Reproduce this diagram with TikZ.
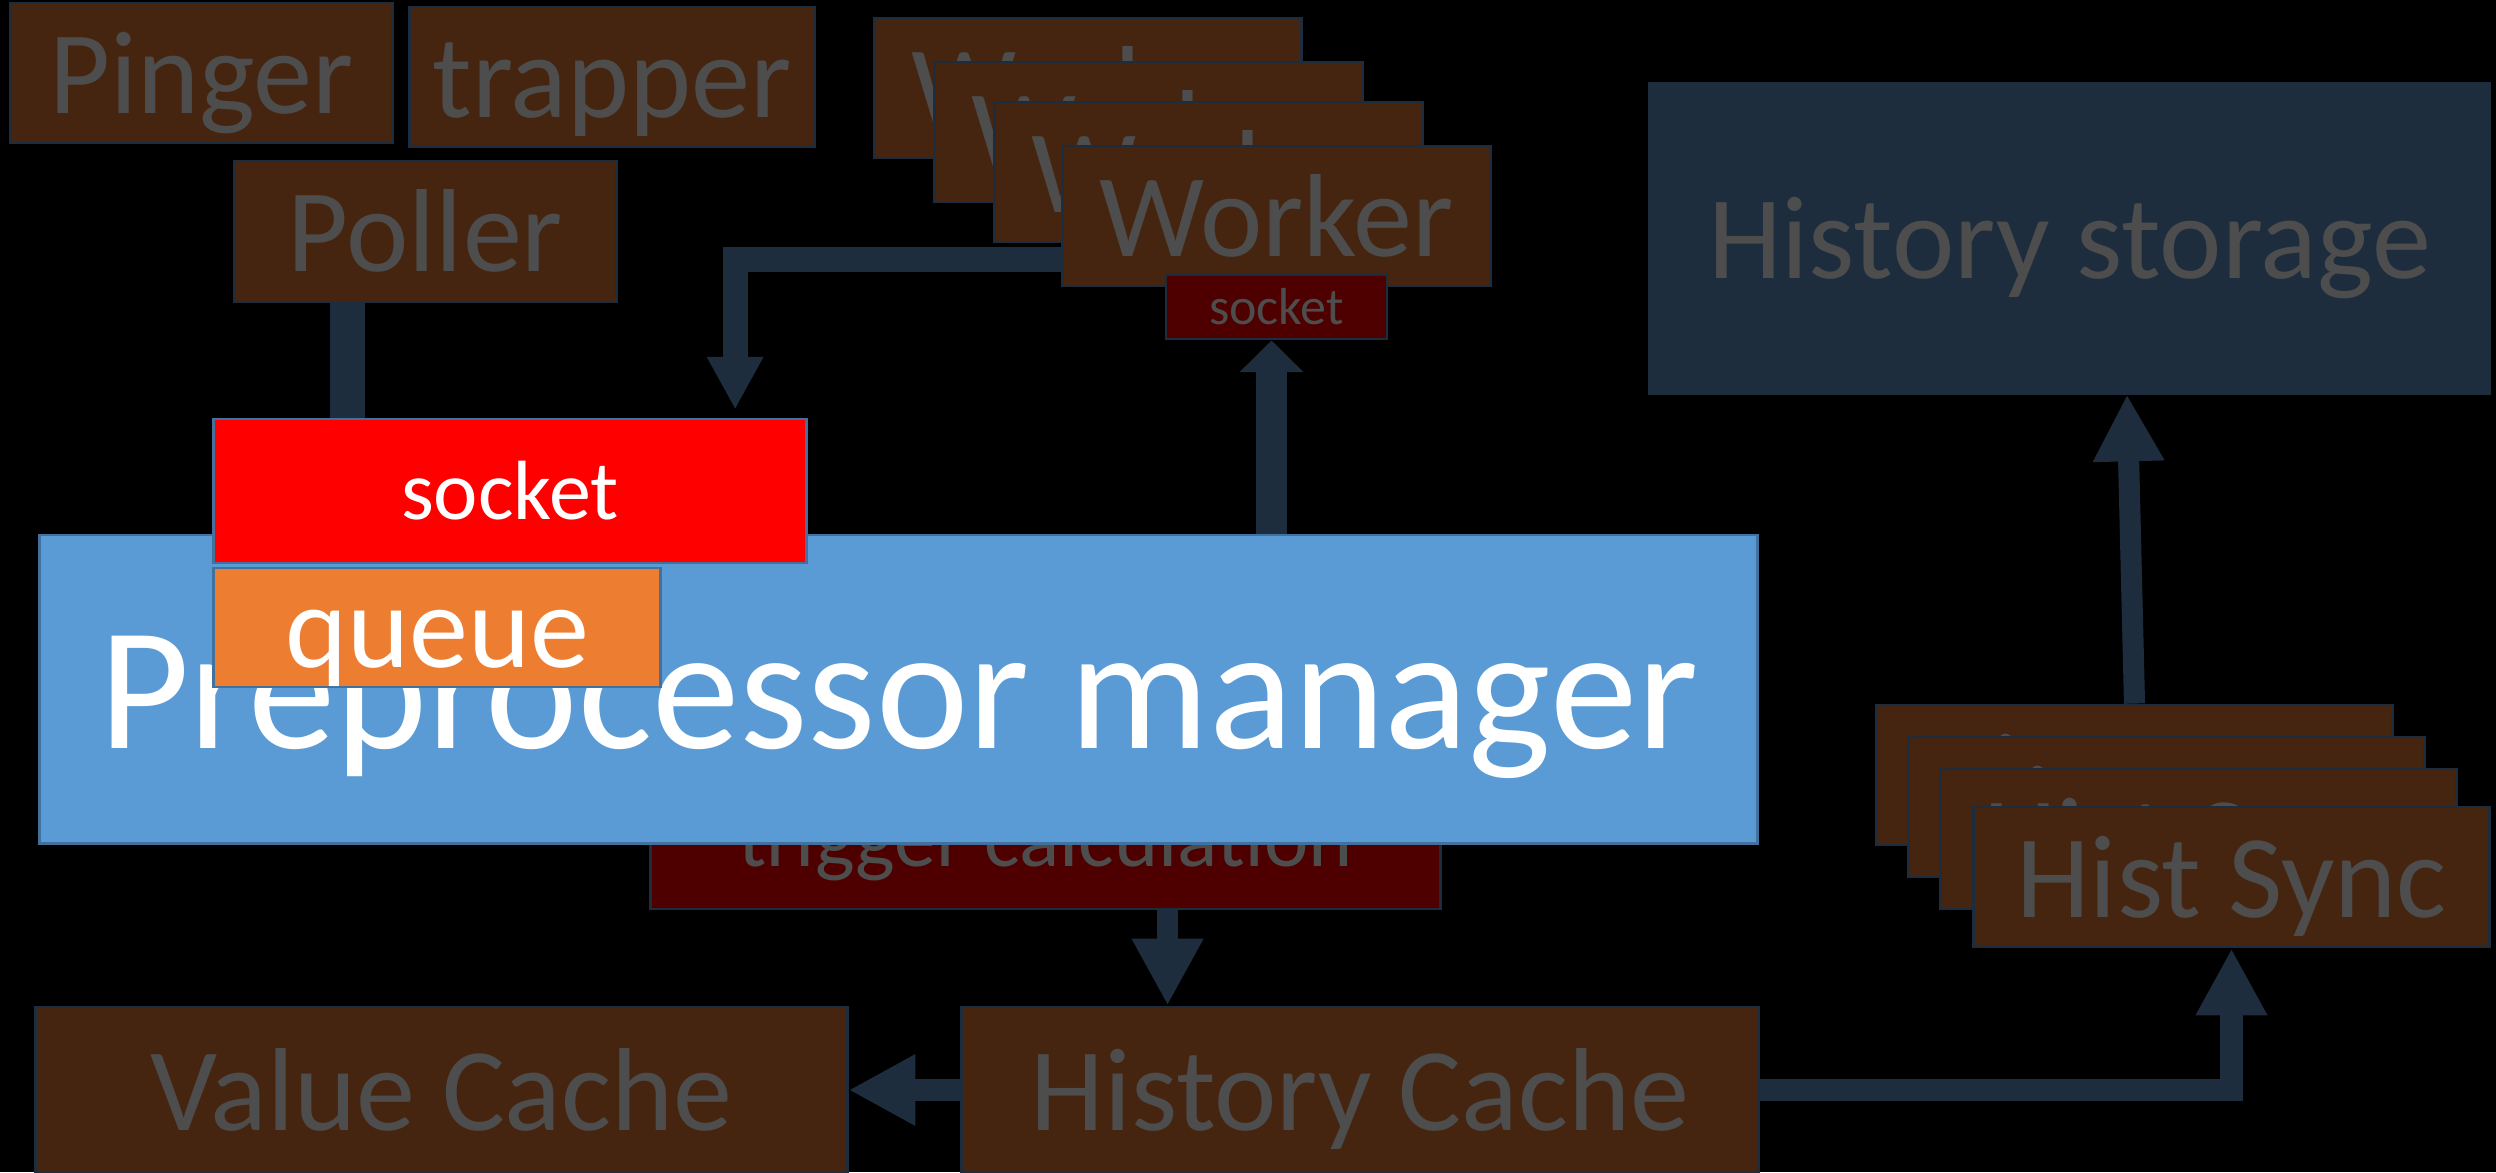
\documentclass[tikz,border=0pt]{standalone}
\usepackage{fontspec}
\setmainfont{Carlito}
\usetikzlibrary{arrows.meta}
\definecolor{boxbrown}{RGB}{70,37,16}
\definecolor{txtgray}{RGB}{77,77,77}
\definecolor{navy}{RGB}{30,45,62}
\definecolor{prepblue}{RGB}{91,155,213}
\definecolor{bluedge}{RGB}{65,113,156}
\definecolor{qorange}{RGB}{237,125,49}
\definecolor{darkred}{RGB}{78,0,0}

\begin{document}
\begin{tikzpicture}[x=0.01cm,y=-0.01cm,
  box/.style={draw=navy,line width=0.8pt,fill=boxbrown,text=txtgray,inner sep=0pt,
    font=\fontsize{33.6}{40}\selectfont,text height=24pt,text depth=1.1pt},
  sockbox/.style={box,fill=darkred,font=\fontsize{23.9}{28}\selectfont,text height=17pt,text depth=0.8pt},
  flow/.style={navy,line width=#1},
  hd/.style={-{Triangle[length=#1,width=#1]}}]
  % Page
  \useasboundingbox (0,0) rectangle (2496,1172);
  \fill[black] (0,0) rectangle (2496,1172);
  % Sources
  \node[box,minimum width=3.81cm,minimum height=1.40cm] (pinger) at (201.5,73) {Pinger};
  \node[box,minimum width=4.04cm,minimum height=1.40cm] (trapper) at (612,77) {trapper};
  \node[box,minimum width=3.81cm,minimum height=1.41cm] (poller) at (425.5,231.5) {Poller};
  % Worker stack, back to front
  \foreach \i/\x/\y in {1/1088/88,2/1148.5/132,3/1208.5/172,4/1276.5/216}
    \node[box,minimum width=4.27cm,minimum height=1.40cm] (worker\i) at (\x,\y) {Worker};
  \node[sockbox,font=\fontsize{14.8}{18}\selectfont,text height=10.6pt,text depth=0.5pt,
    minimum width=2.21cm,minimum height=0.64cm] (wsock) at (1276.5,307) {socket};
  % History storage
  \node[box,fill=navy,minimum width=8.39cm,minimum height=3.10cm] (store) at (2069.5,238) {History storage};
  % Manager
  \node[sockbox,minimum width=7.89cm,minimum height=1.42cm] (trigger) at (1045.5,838) {trigger calculation};
  \node[draw=bluedge,line width=0.8pt,fill=prepblue,text=white,inner sep=0pt,
    font=\fontsize{49.8}{60}\selectfont,text height=36pt,text depth=2.2pt,
    minimum width=17.17cm,minimum height=3.08cm] (prep) at (898.5,689) {Preprocessor manager};
  \node[draw=bluedge,line width=0.8pt,fill=red,text=white,inner sep=0pt,
    font=\fontsize{23.9}{28}\selectfont,text height=17pt,text depth=0.8pt,
    minimum width=5.92cm,minimum height=1.44cm] (rsock) at (510,491) {socket};
  \node[draw=bluedge,line width=0.8pt,fill=qorange,text=white,inner sep=0pt,
    font=\fontsize{33.6}{40}\selectfont,text height=24pt,text depth=1.1pt,
    minimum width=4.46cm,minimum height=1.19cm] (queue) at (437,627.5) {queue};
  % Caches
  \node[box,minimum width=8.11cm,minimum height=1.66cm] (vcache) at (441.5,1090) {Value Cache};
  \node[box,minimum width=7.96cm,minimum height=1.66cm] (hcache) at (1360,1090) {History Cache};
  % Hist Sync stack, back to front
  \foreach \i/\x/\y in {1/2134.5/775,2/2166.5/807,3/2198.5/839,4/2231.5/877}
    \node[box,minimum width=5.15cm,minimum height=1.40cm] (hsync\i) at (\x,\y) {Hist Sync};
  % Connectors
  \draw[flow=10pt] ([xshift=-0.78cm]poller.south) -- ([xshift=-0.78cm]poller.south |- rsock.north);
  \draw[flow=7.1pt,hd=15pt] ([yshift=-0.435cm]worker4.west) -| ([xshift=2.25cm,yshift=0.08cm]rsock.north);
  \draw[flow=8.8pt,-{Triangle[length=9pt,width=17.6pt]}] ([xshift=-0.05cm]wsock.south |- prep.north) -- ([xshift=-0.05cm]wsock.south);
  \draw[flow=6pt,hd=19pt] ([xshift=1.22cm]trigger.south) -- ([xshift=1.22cm]trigger.south |- hcache.north);
  \draw[flow=6.5pt,hd=19pt] (hcache.west) -- (vcache.east);
  \draw[flow=6.3pt,hd=19pt] (hcache.east) -| (hsync4.south);
  \draw[flow=6pt,hd=19pt] (hsync1.north) -- ([xshift=0.575cm]store.south);
\end{tikzpicture}
\end{document}
